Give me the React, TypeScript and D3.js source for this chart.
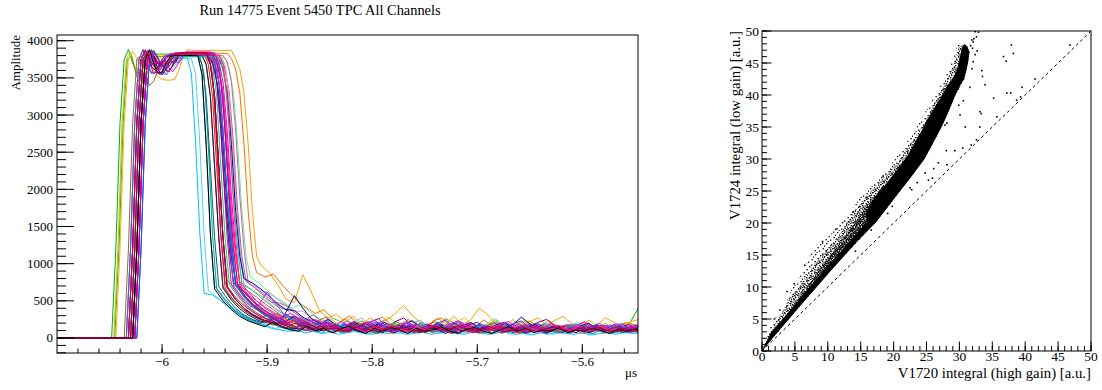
import React from "react";
import * as d3 from "d3";

// ---------- Waveform panel: one trace per TPC channel ----------
const channelColors = [
  "#00b000", "#99cc33", "#8c8c00", "#e6c300", "#ffa000", "#ff6a00", "#00bfff", "#4dd2ff",
  "#0099cc", "#66ee99", "#33bb66", "#009999", "#006666", "#cc99cc", "#996699", "#993366",
  "#cc6699", "#ff99bb", "#ff6666", "#cc3300", "#996633", "#666600", "#3333ff", "#0000cc",
  "#000080", "#6600cc", "#9933ff", "#660099", "#330066", "#3366cc", "#0066ff", "#00ccaa",
  "#ff00ff", "#cc00cc", "#ff0099", "#ff3366", "#e6004c", "#cc0066", "#000000", "#990033",
];

// time (µs) of the last baseline sample before the pulse
const riseTimes = [
  -6.048, -6.046, -6.045, -6.044, -6.032, -6.030, -6.028, -6.026,
  -6.034, -6.028, -6.032, -6.030, -6.026, -6.034, -6.028, -6.030,
  -6.032, -6.026, -6.034, -6.028, -6.036, -6.030, -6.026, -6.032,
  -6.028, -6.024, -6.030, -6.026, -6.028, -6.034, -6.024, -6.030,
  -6.026, -6.032, -6.028, -6.030, -6.026, -6.032, -6.028, -6.030,
];

// time (µs) of the last saturated sample before the trailing edge
const fallTimes = [
  -5.950, -5.946, -5.958, -5.952, -5.934, -5.938, -5.976, -5.972,
  -5.966, -5.944, -5.956, -5.964, -5.966, -5.946, -5.948, -5.954,
  -5.942, -5.944, -5.952, -5.960, -5.956, -5.962, -5.954, -5.950,
  -5.958, -5.956, -5.952, -5.958, -5.962, -5.954, -5.950, -5.948,
  -5.954, -5.958, -5.950, -5.946, -5.956, -5.952, -5.966, -5.958,
];

const plateauLevels = [
  3820, 3800, 3790, 3810, 3870, 3830, 3770, 3760,
  3800, 3780, 3800, 3790, 3810, 3830, 3800, 3820,
  3800, 3790, 3810, 3830, 3790, 3800, 3820, 3800,
  3830, 3810, 3790, 3820, 3800, 3810, 3830, 3790,
  3850, 3820, 3840, 3810, 3830, 3820, 3800, 3840,
];

// leading edge samples (4 ns apart) after the baseline
const riseShape = [1200, 2900, 3750];
// ringing right after the leading edge
const ringShapes = [
  [3860, 3760, 3660, 3620, 3680, 3760],
  [3880, 3700, 3560, 3580, 3700, 3790],
  [3800, 3560, 3400, 3450, 3600, 3740],
  [3800, 3700, 3600, 3520, 3480, 3470, 3470, 3480, 3600, 3780, 3880],
  [3870, 3800, 3700, 3650, 3700, 3790],
  [3840, 3650, 3600, 3700, 3640, 3580, 3660, 3770],
  [3870, 3780, 3620, 3540, 3620, 3730, 3700, 3780],
  [3820, 3720, 3690, 3740, 3700, 3760],
];
const ringIndex = [
  1, 5, 2, 0, 3, 6, 4, 7, 1, 5, 0, 6, 7, 1, 4, 5, 0, 6, 1, 7,
  2, 5, 1, 4, 6, 0, 5, 7, 4, 1, 6, 0, 5, 1, 7, 6, 4, 0, 1, 5,
];
// trailing edge samples (4 ns apart)
const fallShapes = [
  [3680, 3250, 2300, 1350],
  [3760, 3620, 3300, 2600, 1700, 1100],
  [3550, 2600, 1400],
  [3720, 3450, 2800, 1900, 1200],
];
const fallIndex = [
  0, 3, 0, 3, 1, 1, 2, 2, 2, 1, 0, 2, 0, 3, 1, 0, 3, 0, 3, 0,
  3, 0, 3, 1, 0, 3, 0, 1, 0, 3, 0, 3, 1, 0, 3, 0, 2, 3, 2, 0,
];

// tail after the trailing edge, in units of 10 ADC counts, every 8 ns
const tailData = [
  "72 58 46 38 33 27 24 29 21 16  22 13 18 10 15 23 17 9 14 20  12 17 8 13 21 15 10 18 12 7  14 22 16 9 13 19 11 15 8 12  18 10 16 12 9 15 11 22 42 45  40 35",
  "70 64 57 50 42 38 30 22 25 19  13 20 15 9 17 22 12 16 10 19  24 14 9 15 12 20 16 8 13 18  25 17 11 14 8 12 19 13 17 10  15 9 14 20 12 8 16 11 14 18  10 13",
  "78 66 52 41 35 29 33 26 19 24  16 21 13 18 25 19 11 16 9 14  22 17 12 19 8 15 26 20 13 10  17 14 21 12 9 16 23 15 11 18  13 8 15 19 12 17 10 14 20 13  11 15",
  "70 54 42 34 26 30 22 17 25 14  20 26 18 12 16 9 14 21 28 18  11 15 8 13 19 12 22 27 17 10  14 9 18 13 20 11 15 24 16 9  13 19 12 17 10 14 21 13 9 15  12 16",
  "98 88 72 52 48 85 62 36 27 32  22 29 18 27 20 24 33 44 30 21  16 27 19 29 17 25 40 31 19 15  25 14 22 27 17 24 29 19 14 24  17 27 21 15 22 25 17 23 27 19  16 21",
  "88 82 86 72 60 48 40 33 38 27  22 30 19 16 24 28 18 14 25 19  13 23 27 17 12 21 15 24 18 13  11 19 23 16 12 20 14 10 17 22  15 11 18 14 21 16 12 18 14 20  15 12",
  "60 58 50 42 35 28 22 17 13 11  9 10 7 9 6 8 5 7 9 6  5 7 6 9 5 6 8 5 7 9  6 5 8 6 5 7 8 5 6 4  7 5 8 6 5 7 4 6 7 5  8 6 7",
  "64 55 45 37 30 24 19 16 13 15  11 9 12 8 7 11 6 9 8 5  9 12 7 6 10 8 11 6 7 10  6 8 11 7 6 9 5 8 6 10  8 5 7 10 6 8 5 7 9 6  10 8 9",
  "70 56 42 33 26 22 17 21 15 12  10 15 9 13 8 12 16 10 7 12  9 14 11 7 10 15 9 12 7 10  14 9 12 7 11 8 13 7 10 14  9 7 11 13 8 6 11 9 13 7  9 11",
  "82 74 64 55 48 40 45 36 28 22  27 19 15 23 18 12 21 16 11 19  24 15 10 17 13 21 16 10 18 26  17 12 16 10 14 20 13 9 16 21  14 10 17 13 9 15 19 13 11 16  18 13",
  "72 56 43 34 27 33 26 20 15 21  14 10 18 12 16 22 15 9 13 19  12 8 16 21 13 9 12 18 10 16  8 14 19 12 9 15 11 17 13 8  15 19 11 7 14 17 9 15 11 13  9 12",
  "66 50 38 29 23 19 24 17 13 11  17 12 8 14 11 7 13 16 10 6  12 15 9 13 7 11 17 10 6 12  8 14 10 15 7 12 6 10 14 8  13 11 6 12 8 14 10 6 11 13  8 10",
  "69 53 40 31 25 21 26 18 14 12  18 12 9 16 12 8 14 19 11 7  13 10 17 11 7 13 18 11 9 15  7 11 16 9 13 7 12 16 10 6  12 14 9 15 8 10 14 12 7 10  13 9",
  "80 72 64 60 52 44 36 36 27 20  26 18 13 21 27 17 12 20 15 11  19 24 15 10 18 13 21 17 11 16  22 14 10 18 12 16 21 13 10 17  12 19 14 9 17 20 12 15 19 11  15 13",
  "76 68 58 48 47 42 32 25 31 22  17 15 23 14 11 20 15 9 17 22  13 8 16 12 19 14 9 15 19 11  16 21 12 8 15 10 18 13 9 17  11 15 20 13 8 15 11 17 13 9  14 16",
  "71 55 42 34 27 22 18 26 19 14  11 19 13 9 17 21 12 8 13 18  10 14 19 12 8 16 11 15 18 10  7 13 17 9 15 11 16 12 8 15  18 10 9 14 17 11 8 15 11 14  9 12",
  "74 66 58 49 40 38 30 23 17 24  16 12 20 13 9 18 23 14 10 17  13 8 15 20 12 9 17 11 15 19  11 8 14 18 10 16 12 7 14 19  12 9 16 12 8 15 18 12 9 15  12 10",
  "68 54 44 50 40 32 26 20 27 17  13 10 18 11 15 9 17 13 7 13  16 10 14 8 12 18 10 6 13 16  9 14 11 6 13 9 16 12 8 11  15 9 13 7 11 15 9 12 14 8  12 10",
  "73 58 46 37 30 25 30 22 16 24  16 12 9 17 22 13 8 14 19 11  7 16 12 18 10 15 8 13 19 14  9 16 8 12 18 10 15 8 13 17  11 6 15 13 9 17 11 14 8 15  11 13",
  "67 51 40 32 26 32 24 18 14 12  19 13 10 7 14 19 12 8 16 11  6 13 18 10 8 15 11 6 13 17  9 13 11 6 15 9 13 17 9 11  7 14 10 15 12 7 14 9 12 16  9 11",
  "72 64 56 48 40 33 27 29 21 16  23 28 18 13 10 17 22 15 10 15  20 13 8 17 22 14 11 19 13 9  16 21 13 11 18 9 14 19 12 8  16 12 18 14 9 16 13 8 15 19  12 14",
  "69 53 42 33 27 22 17 23 17 12  10 17 11 15 8 13 19 12 7 14  18 10 16 12 7 14 10 16 21 13  9 12 7 14 18 11 6 13 17 9  15 11 13 8 16 11 6 13 15 10  8 12",
  "73 58 46 37 30 25 32 24 18 13  22 14 10 19 13 9 21 26 15 10  16 9 17 12 20 24 14 9 13 18  11 16 9 19 23 13 9 16 12 7  15 18 11 16 9 14 19 12 7 15  12 10",
  "80 74 66 56 46 38 37 28 22 17  25 17 13 22 16 11 20 14 10 18  23 15 11 19 14 9 16 21 13 10  18 21 13 9 16 19 11 17 13 8  16 20 12 10 18 14 9 16 19 11  14 16",
  "68 52 40 31 25 22 18 35 57 40  26 20 15 12 18 11 8 15 18 11  7 14 17 9 15 11 6 13 17 11  8 15 9 14 18 28 19 12 7 14  10 15 12 7 14 10 16 12 8 14  10 12",
  "75 60 47 38 31 26 21 28 22 16  13 21 14 10 18 13 9 17 21 13  9 16 12 19 14 9 16 12 18 21  14 10 16 12 8 15 18 11 16 13  8 15 11 17 13 8 15 18 11 14  16 11",
  "70 54 42 45 62 46 32 24 18 25  18 13 10 19 14 10 17 22 14 9  15 19 12 8 16 12 18 22 13 9  16 12 8 15 19 12 10 16 9 15  18 12 8 15 11 17 13 8 15 12  14 11",
  "76 62 50 40 33 27 22 29 22 16  13 22 15 11 19 14 10 18 14 22  27 17 12 17 11 15 20 14 9 17  12 16 19 12 9 16 21 25 16 11  16 10 14 18 11 16 9 14 18 12  15 13",
  "67 51 39 31 25 20 27 19 14 12  19 13 9 17 12 8 15 19 11 7  14 17 11 15 8 13 18 11 7 14  9 15 12 17 9 13 7 11 15 10  14 12 7 14 10 16 12 9 14 12  9 12",
  "72 56 44 35 29 24 18 26 19 14  11 20 13 9 17 13 19 12 8 16  11 15 20 12 8 15 11 18 13 9  16 12 15 19 11 8 15 13 17 10  14 11 16 9 17 12 14 9 15 13  11 14",
  "71 55 43 34 27 22 29 22 16 12  21 14 10 18 13 9 16 21 13 8  14 18 11 15 19 12 8 15 11 18  13 9 16 12 15 18 9 13 17 11  15 9 14 18 11 8 15 12 14 17  11 13",
  "74 66 57 48 39 31 24 27 20 15  12 20 16 11 18 13 9 16 20 13  9 17 13 8 16 19 12 10 15 18  11 16 13 8 15 11 18 13 9 15  17 11 13 8 15 18 11 13 16 11  13 15",
  "76 62 50 40 33 27 33 27 20 25  18 13 22 17 11 19 24 15 10 16  21 14 9 17 13 19 23 14 10 17  13 19 22 14 9 16 12 19 14 9  17 21 13 11 16 19 12 16 13 18  12 14",
  "68 52 40 32 26 21 28 21 15 12  9 17 21 13 9 16 12 8 15 19  12 8 16 11 14 18 11 7 14 16  10 15 9 13 18 11 8 15 11 16  13 8 15 11 13 17 9 12 15 11  13 10",
  "73 58 46 37 30 25 20 27 21 15  12 19 13 9 17 21 14 10 15 9  13 18 11 16 12 8 15 19 12 8  16 13 10 15 18 11 8 14 17 11  15 9 14 17 11 15 9 14 12 16  12 10",
  "70 63 55 46 38 30 22 25 18 13  19 13 9 16 12 8 15 11 18 12  8 15 11 7 14 17 10 15 11 8  14 17 11 7 14 10 16 12 17 9  14 7 12 16 10 14 11 8 14 10  13 9",
  "74 58 46 37 30 25 21 17 24 17  13 10 17 13 9 16 12 8 15 11  16 13 9 8 13 16 10 14 17 11  7 14 10 16 12 7 12 16 10 14  11 8 13 16 10 12 8 14 11 13  10 8",
  "71 55 42 34 27 22 18 15 22 16  11 17 12 8 15 11 17 13 9 14  12 7 14 17 11 9 16 12 7 14  10 16 12 9 14 17 10 8 13 16  10 14 8 13 10 15 11 8 13 10  14 11",
  "66 50 38 29 23 19 15 22 15 11  9 16 10 13 7 12 16 10 6 13  9 14 11 6 13 9 11 15 9 6  12 14 9 6 11 15 9 13 7 11  9 14 7 11 9 13 10 6 12 9  12 10",
  "68 52 40 32 26 21 17 14 20 15  11 16 12 14 9 13 17 12 8 14  11 15 12 8 12 16 10 14 9 12  10 16 12 8 11 15 11 8 13 15  11 8 13 11 15 11 8 13 11 9  13 11",
];

const SAMPLE_US = 0.004;
const TAIL_STEP_US = 0.008;
const timeTicks = [-6, -5.9, -5.8, -5.7, -5.6];
const ampTicks = [0, 500, 1000, 1500, 2000, 2500, 3000, 3500, 4000];

// ---------- Scatter panel: V1724 vs V1720 integrals ----------
// fully populated upper part of the correlation band
const bandSolid: [number, number][] = [
  [17.2, 20], [19.1, 22.5], [21, 25], [22.9, 27.5], [24.7, 30], [26, 32.5], [27.3, 35],
  [28.4, 37.5], [29.4, 40], [30.1, 41.5], [30.7, 42.5], [31.1, 44], [31.4, 45.5], [31.5, 46.8],
  [31.2, 47.6], [30.8, 47.9], [30.4, 47.5], [30.2, 46.5], [29.9, 45], [29.5, 43.5], [28.8, 42.3],
  [27.9, 41], [27.1, 39.5], [26.2, 38], [25.3, 36.5], [24.3, 34.5], [23.2, 32.5], [22.1, 30.5],
  [21, 29], [19.9, 27.5], [18.8, 26], [17.6, 24.5], [16.5, 23], [15.8, 21.5], [16, 20.2],
];
// dense edge on the low-ratio side, down to the origin
const bandEdge: [number, number][] = [
  [0, 0], [2, 2.5], [4, 4.9], [6, 7.3], [8.3, 10], [10.4, 12.5], [12.6, 15], [14.8, 17.5],
  [17.2, 20], [19.1, 22.5], [18, 22.8], [16, 20.2], [13.8, 17.7], [11.7, 15.2], [9.6, 12.8],
  [7.5, 10.3], [5.3, 7.6], [3.3, 5.2], [1.3, 2.8],
];
// heavily populated lower part of the band
const bandLower: [number, number][] = [
  [0, 0], [2, 2.5], [4, 4.9], [6, 7.3], [8.3, 10], [10.4, 12.5], [12.6, 15], [14.8, 17.5],
  [17.2, 20], [19.1, 22.5], [18.5, 26], [17.4, 24.5], [16.2, 23], [15, 21.5], [14, 20],
  [12.8, 18.2], [11.4, 16.4], [10.1, 14.6], [8.8, 12.8], [7.5, 11], [6.3, 9.3], [5, 7.4],
  [3.8, 5.6], [2.6, 3.8], [1.4, 2],
];
// speckled fringe on the high-ratio side of the band
const bandHaloInner: [number, number][] = [
  [0, 0], [1.2, 2.6], [2.4, 5], [3.6, 7.2], [4.6, 8.8], [5.6, 10], [6.8, 11.8], [8, 13.5],
  [9.1, 15], [10.8, 17], [12.2, 18.8], [12.8, 20], [14.6, 22.5], [16.5, 25], [19, 27.6],
  [21, 30], [22.6, 32.5], [24.3, 35], [25.6, 37.5], [26.9, 40], [28.2, 42.5], [29.2, 45],
  [29.9, 47.5], [30.8, 48], [31.6, 46.8], [30.8, 42.5], [29.4, 40], [27.3, 35], [24.7, 30],
  [21, 25], [17.2, 20], [12.6, 15], [8.3, 10], [4, 4.9],
];
// sparser outer fringe
const bandHaloOuter: [number, number][] = [
  [0, 0], [0.6, 2.2], [1.5, 4.5], [2.3, 5.6], [3, 5.6], [3.6, 7.2], [4.4, 9.4], [5.4, 11],
  [6.4, 12.8], [7.3, 15], [9, 17], [10.6, 18.4], [11.8, 20], [13.4, 21.8], [15.6, 25],
  [18.4, 27.5], [20.2, 30], [21.9, 32.5], [23.5, 35], [24.9, 37.5], [26.3, 40], [27.7, 42.5],
  [28.8, 45], [29.8, 48], [30.8, 48], [31.6, 46.8], [30.8, 42.5], [29.4, 40], [27.3, 35],
  [24.7, 30], [21, 25], [17.2, 20], [12.6, 15], [8.3, 10], [4, 4.9],
];
// isolated events away from the band
const strayX = [
  37.9, 38.2, 36.7, 37.1, 46.8, 41.5, 39.5, 39.3, 37.8, 33.9, 33.4, 31.6, 35.2, 33.1, 33.3,
  30.1, 28.1, 28.0, 29.3, 30.5, 31.8, 32.6, 26.1, 24.8, 22.75, 22.5, 25.3, 25.9, 27.8, 28.1,
  30.9, 33.1, 35.7, 37.2, 38.7, 32.4, 32.9, 32.6, 32.1, 32.0, 31.7, 32.4, 32.1, 31.9,
  3.8, 4.9, 6.5, 9.2, 11.2, 13.8, 15.9, 18.4, 1.9, 2.7, 16.6, 19.8, 23.0, 9.8, 14.5,
  19.1, 14.2, 23.6, 26.8, 32.2, 31.9, 32.7, 33.5, 29.9, 30.6,
];
const strayY = [
  47.8, 46.5, 46.0, 45.3, 47.8, 42.5, 41.2, 39.7, 40.3, 41.6, 43.8, 41.2, 39.5, 37.4, 37.1,
  36.9, 35.6, 31.3, 31.3, 31.7, 32.2, 33.0, 28.5, 27.8, 25.2, 25.5, 26.7, 27.0, 35.3, 29.1,
  35.0, 35.0, 36.6, 40.3, 39.2, 49.9, 49.8, 49.1, 48.3, 47.3, 47.7, 46.3, 45.2, 44.1,
  9.3, 10.5, 13.4, 17.1, 19.0, 21.7, 24.0, 27.3, 5.0, 6.4, 18.9, 22.6, 28.1, 12.3, 17.6,
  21.5, 15.6, 26.3, 29.4, 48.8, 48.6, 46.9, 42.9, 38.4, 39.1,
];
const gainTicks = [0, 5, 10, 15, 20, 25, 30, 35, 40, 45, 50];

const FONT = "Liberation Serif, DejaVu Serif, serif";
const minus = (v: number) => (v < 0 ? "\u2212" + String(-v) : String(v));

// stipple tiles for the partly filled regions of the scatter band
const heavyDots = [
  [0, 0], [2, 0.5], [4.5, 0], [6, 1], [1, 2], [3, 2.5], [5.2, 2.2], [0.2, 4], [2.2, 4.3],
  [4, 4], [6, 3.8], [1.3, 5.7], [3.5, 6], [5.5, 5.8],
];
const mediumDots = [
  [0, 0], [3, 1], [6, 0.5], [1.5, 3], [4.5, 3.5], [7, 2.5], [0.5, 5.5], [3.5, 6], [6, 5],
  [2, 7], [5.5, 7.5], [2.5, 4.5], [7.5, 6.5],
];
const sparseDots = [
  [1, 1], [6, 2], [3.5, 5], [8.5, 6], [0.5, 8], [5, 8.5], [8, 0.5], [10, 3.5], [2.5, 10.2],
];

export default function App() {
  const xL = d3.scaleLinear().domain([-6.1, -5.547]).range([57, 638]);
  const yL = d3.scaleLinear().domain([-202, 4077]).range([353, 35]);
  const xR = d3.scaleLinear().domain([0, 50]).range([762, 1091]);
  const yR = d3.scaleLinear().domain([0, 50]).range([351, 31]);

  const waveLine = d3
    .line<[number, number]>()
    .x((d) => xL(d[0]))
    .y((d) => yL(d[1]));

  const wavePaths = channelColors.map((_, i) => {
    const t0 = riseTimes[i];
    const pts: [number, number][] = [[-6.1, 0], [t0, 0]];
    riseShape.forEach((v, k) => pts.push([t0 + (k + 1) * SAMPLE_US, v]));
    const ring = ringShapes[ringIndex[i]];
    ring.forEach((v, k) => pts.push([t0 + (k + 1 + riseShape.length) * SAMPLE_US, v]));
    pts.push([t0 + (ring.length + 1 + riseShape.length) * SAMPLE_US, plateauLevels[i]]);
    const tf = fallTimes[i];
    pts.push([tf, plateauLevels[i]]);
    const fall = fallShapes[fallIndex[i]];
    fall.forEach((v, k) => pts.push([tf + (k + 1) * SAMPLE_US, v]));
    const tt = tf + (fall.length + 1) * SAMPLE_US;
    tailData[i]
      .trim()
      .split(/\s+/)
      .forEach((s, k) => pts.push([tt + k * TAIL_STEP_US, Number(s) * 10]));
    return waveLine(pts) as string;
  });

  const poly = (pts: [number, number][]) =>
    "M" + pts.map((p) => `${xR(p[0]).toFixed(2)},${yR(p[1]).toFixed(2)}`).join("L") + "Z";

  const minorTime = d3.range(-6.08, -5.547, 0.02);
  const minorAmp = d3.range(-200, 4001, 100);
  const minorGain = d3.range(0, 50.01, 1);

  const L = { x0: 57, x1: 638, y0: 35, y1: 353 };
  const R = { x0: 762, x1: 1091, y0: 31, y1: 351 };

  const tile = (id: string, size: number, dots: number[][], d: number) => (
    <pattern id={id} width={size} height={size} patternUnits="userSpaceOnUse">
      {dots.map(([a, b], k) => (
        <rect key={k} x={a} y={b} width={d} height={d} fill="#000" />
      ))}
    </pattern>
  );

  return (
    <svg
      width={1102}
      height={390}
      style={{ position: "absolute", left: 0, top: 0, background: "#fff", fontFamily: FONT }}
    >
      <defs>
        <clipPath id="clipL">
          <rect x={L.x0} y={L.y0} width={L.x1 - L.x0} height={L.y1 - L.y0} />
        </clipPath>
        <clipPath id="clipR">
          <rect x={R.x0} y={R.y0} width={R.x1 - R.x0} height={R.y1 - R.y0} />
        </clipPath>
        {tile("speckHeavy", 7, heavyDots, 1.5)}
        {tile("speckMedium", 8, mediumDots, 1.3)}
        {tile("speckSparse", 11, sparseDots, 1.3)}
      </defs>
      <rect x={0} y={0} width={1102} height={390} fill="#fff" />

      {/* ---------------- left panel ---------------- */}
      <text x={320} y={15} fontSize={14.4} textAnchor="middle" fill="#000" style={{ fontFamily: FONT }}>
        Run 14775 Event 5450 TPC All Channels
      </text>
      <g clipPath="url(#clipL)">
        {wavePaths.map((d, i) => (
          <path key={i} d={d} fill="none" stroke={channelColors[i]} strokeWidth={1} strokeLinejoin="round" />
        ))}
      </g>
      <rect x={L.x0} y={L.y0} width={L.x1 - L.x0} height={L.y1 - L.y0} fill="none" stroke="#000" strokeWidth={1} />
      {minorTime.map((t, k) => (
        <line key={"mt" + k} x1={xL(t)} x2={xL(t)} y1={L.y1} y2={L.y1 - 4.5} stroke="#000" />
      ))}
      {timeTicks.map((t) => (
        <g key={"t" + t}>
          <line x1={xL(t)} x2={xL(t)} y1={L.y1} y2={L.y1 - 9} stroke="#000" />
          <text x={xL(t)} y={366} fontSize={13} textAnchor="middle" style={{ fontFamily: FONT }}>
            {minus(t)}
          </text>
        </g>
      ))}
      <text x={637} y={377} fontSize={13} textAnchor="end" style={{ fontFamily: FONT }}>
        μs
      </text>
      {minorAmp.map((v, k) => (
        <line key={"ma" + k} x1={L.x0} x2={L.x0 + 9} y1={yL(v)} y2={yL(v)} stroke="#000" />
      ))}
      {ampTicks.map((v) => (
        <g key={"a" + v}>
          <line x1={L.x0} x2={L.x0 + 17} y1={yL(v)} y2={yL(v)} stroke="#000" />
          <text x={53} y={yL(v) + 4.5} fontSize={13} textAnchor="end" style={{ fontFamily: FONT }}>
            {v}
          </text>
        </g>
      ))}
      <text transform={`translate(19.5,${L.y0}) rotate(-90)`} fontSize={13} textAnchor="end" style={{ fontFamily: FONT }}>
        Amplitude
      </text>

      {/* ---------------- right panel ---------------- */}
      <g clipPath="url(#clipR)">
        <path d={poly(bandHaloOuter)} fill="url(#speckSparse)" />
        <path d={poly(bandHaloInner)} fill="url(#speckMedium)" />
        <path d={poly(bandLower)} fill="url(#speckHeavy)" />
        <path d={poly(bandEdge)} fill="#000" />
        <path d={poly(bandSolid)} fill="#000" />
        {strayX.map((x, k) => (
          <rect key={"s" + k} x={xR(x) - 0.8} y={yR(strayY[k]) - 0.8} width={1.6} height={1.6} fill="#000" />
        ))}
        <line x1={xR(0)} y1={yR(0)} x2={xR(50)} y2={yR(50)} stroke="#000" strokeWidth={1} strokeDasharray="3,3" />
      </g>
      <rect x={R.x0} y={R.y0} width={R.x1 - R.x0} height={R.y1 - R.y0} fill="none" stroke="#000" strokeWidth={1} />
      {minorGain.map((v, k) => (
        <g key={"mg" + k}>
          <line x1={xR(v)} x2={xR(v)} y1={R.y1} y2={R.y1 - 5} stroke="#000" />
          <line x1={R.x0} x2={R.x0 + 5} y1={yR(v)} y2={yR(v)} stroke="#000" />
        </g>
      ))}
      {gainTicks.map((v) => (
        <g key={"g" + v}>
          <line x1={xR(v)} x2={xR(v)} y1={R.y1} y2={R.y1 - 9.5} stroke="#000" />
          <line x1={R.x0} x2={R.x0 + 9.5} y1={yR(v)} y2={yR(v)} stroke="#000" />
          <text x={xR(v)} y={361} fontSize={13.5} textAnchor="middle" style={{ fontFamily: FONT }}>
            {v}
          </text>
          <text x={759} y={yR(v) + 4.7} fontSize={13.5} textAnchor="end" style={{ fontFamily: FONT }}>
            {v}
          </text>
        </g>
      ))}
      <text x={1091} y={378} fontSize={14.8} textAnchor="end" style={{ fontFamily: FONT }}>
        V1720 integral (high gain) [a.u.]
      </text>
      <text transform={`translate(739.5,${R.y0}) rotate(-90)`} fontSize={14.8} textAnchor="end" style={{ fontFamily: FONT }}>
        V1724 integral (low gain) [a.u.]
      </text>
    </svg>
  );
}
